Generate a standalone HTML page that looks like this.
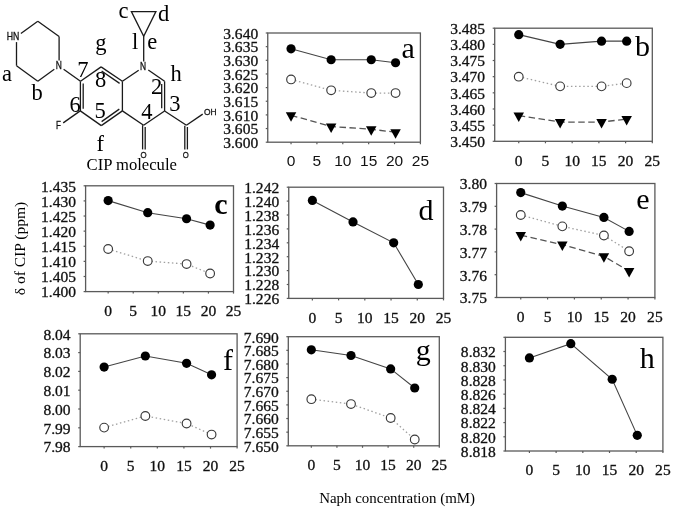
<!DOCTYPE html>
<html><head><meta charset="utf-8"><title>CIP chemical shift vs Naph concentration</title>
<style>
html,body{margin:0;padding:0;background:#fff;}
body{width:675px;height:509px;overflow:hidden;}
svg{display:block;will-change:transform;}
.tk{font-family:"Liberation Serif", serif;font-size:14.5px;fill:#111;stroke:#111;stroke-width:0.3px;}
.tks{font-family:"Liberation Sans", sans-serif;font-size:15.5px;fill:#111;}
.lt{font-family:"Liberation Serif", serif;font-size:30px;fill:#000;}
.at{font-family:"Liberation Sans", sans-serif;fill:#111;stroke:#111;stroke-width:0.3px;}
.ml{font-family:"Liberation Serif", serif;fill:#000;}
.ax{font-family:"Liberation Serif", serif;font-size:15px;fill:#000;}
</style></head>
<body>
<svg width="675" height="509" viewBox="0 0 675 509">
<rect width="675" height="509" fill="#fff"/>
<line x1="20.9" y1="33.5" x2="37.8" y2="21.2" stroke="#1a1a1a" stroke-width="1.3" fill="none" stroke-linecap="butt"/>
<line x1="37.8" y1="21.2" x2="59.1" y2="36.5" stroke="#1a1a1a" stroke-width="1.3" fill="none" stroke-linecap="butt"/>
<line x1="59.1" y1="36.5" x2="59.1" y2="60.6" stroke="#1a1a1a" stroke-width="1.3" fill="none" stroke-linecap="butt"/>
<line x1="54.3" y1="69.3" x2="37.8" y2="81.2" stroke="#1a1a1a" stroke-width="1.3" fill="none" stroke-linecap="butt"/>
<line x1="37.8" y1="81.2" x2="16.5" y2="65.7" stroke="#1a1a1a" stroke-width="1.3" fill="none" stroke-linecap="butt"/>
<line x1="16.5" y1="65.7" x2="16.5" y2="42.1" stroke="#1a1a1a" stroke-width="1.3" fill="none" stroke-linecap="butt"/>
<line x1="63.6" y1="69.3" x2="80.5" y2="81.3" stroke="#1a1a1a" stroke-width="1.3" fill="none" stroke-linecap="butt"/>
<line x1="80.5" y1="81.3" x2="101.1" y2="66.9" stroke="#1a1a1a" stroke-width="1.3" fill="none" stroke-linecap="butt"/>
<line x1="101.1" y1="66.9" x2="122.4" y2="81.3" stroke="#1a1a1a" stroke-width="1.3" fill="none" stroke-linecap="butt"/>
<line x1="101.6" y1="71.0" x2="119.6" y2="83.4" stroke="#1a1a1a" stroke-width="1.3" fill="none" stroke-linecap="butt"/>
<line x1="122.4" y1="81.3" x2="122.4" y2="110.9" stroke="#1a1a1a" stroke-width="1.3" fill="none" stroke-linecap="butt"/>
<line x1="122.4" y1="110.9" x2="101.3" y2="125.6" stroke="#1a1a1a" stroke-width="1.3" fill="none" stroke-linecap="butt"/>
<line x1="119.3" y1="109.1" x2="101.6" y2="121.6" stroke="#1a1a1a" stroke-width="1.3" fill="none" stroke-linecap="butt"/>
<line x1="101.3" y1="125.6" x2="80.3" y2="110.9" stroke="#1a1a1a" stroke-width="1.3" fill="none" stroke-linecap="butt"/>
<line x1="80.4" y1="111.2" x2="80.4" y2="81.3" stroke="#1a1a1a" stroke-width="1.3" fill="none" stroke-linecap="butt"/>
<line x1="83.2" y1="83.4" x2="83.2" y2="108.7" stroke="#1a1a1a" stroke-width="1.3" fill="none" stroke-linecap="butt"/>
<line x1="80.2" y1="110.9" x2="63.2" y2="122.9" stroke="#1a1a1a" stroke-width="1.3" fill="none" stroke-linecap="butt"/>
<line x1="122.4" y1="81.3" x2="138.7" y2="70.2" stroke="#1a1a1a" stroke-width="1.3" fill="none" stroke-linecap="butt"/>
<line x1="148.3" y1="70.0" x2="164.6" y2="81.3" stroke="#1a1a1a" stroke-width="1.3" fill="none" stroke-linecap="butt"/>
<line x1="164.6" y1="81.3" x2="164.6" y2="111.0" stroke="#1a1a1a" stroke-width="1.3" fill="none" stroke-linecap="butt"/>
<line x1="161.7" y1="83.9" x2="161.7" y2="108.3" stroke="#1a1a1a" stroke-width="1.3" fill="none" stroke-linecap="butt"/>
<line x1="164.6" y1="111.0" x2="143.6" y2="125.2" stroke="#1a1a1a" stroke-width="1.3" fill="none" stroke-linecap="butt"/>
<line x1="143.6" y1="125.2" x2="122.4" y2="110.9" stroke="#1a1a1a" stroke-width="1.3" fill="none" stroke-linecap="butt"/>
<line x1="142.6" y1="125.2" x2="142.6" y2="149.4" stroke="#1a1a1a" stroke-width="1.3" fill="none" stroke-linecap="butt"/>
<line x1="145.2" y1="127.0" x2="145.2" y2="149.4" stroke="#1a1a1a" stroke-width="1.3" fill="none" stroke-linecap="butt"/>
<line x1="164.6" y1="111.0" x2="186.4" y2="125.2" stroke="#1a1a1a" stroke-width="1.3" fill="none" stroke-linecap="butt"/>
<line x1="186.4" y1="125.2" x2="202.7" y2="114.1" stroke="#1a1a1a" stroke-width="1.3" fill="none" stroke-linecap="butt"/>
<line x1="184.8" y1="125.8" x2="184.8" y2="149.4" stroke="#1a1a1a" stroke-width="1.3" fill="none" stroke-linecap="butt"/>
<line x1="187.4" y1="127.0" x2="187.4" y2="149.4" stroke="#1a1a1a" stroke-width="1.3" fill="none" stroke-linecap="butt"/>
<line x1="143.7" y1="61.5" x2="143.7" y2="36.3" stroke="#1a1a1a" stroke-width="1.3" fill="none" stroke-linecap="butt"/>
<path d="M131.4,11.6 H155.9 L143.7,36.3 Z" stroke="#1a1a1a" stroke-width="1.3" fill="none" stroke-linecap="butt" stroke-linejoin="miter"/>
<text x="6.7" y="40.0" class="at" font-size="10.4" textLength="12.6" lengthAdjust="spacingAndGlyphs">HN</text>
<text x="55.7" y="69.4" class="at" font-size="10.1" textLength="6.1" lengthAdjust="spacingAndGlyphs">N</text>
<text x="140.1" y="70.3" class="at" font-size="10.0" textLength="6.1" lengthAdjust="spacingAndGlyphs">N</text>
<text x="56.0" y="129.4" class="at" font-size="10.3" textLength="4.9" lengthAdjust="spacingAndGlyphs">F</text>
<text x="204.0" y="114.6" class="at" font-size="9.9" textLength="12.6" lengthAdjust="spacingAndGlyphs">OH</text>
<text x="140.4" y="158.4" class="at" font-size="9.15" textLength="6.1" lengthAdjust="spacingAndGlyphs">O</text>
<text x="182.7" y="158.4" class="at" font-size="9.15" textLength="6.0" lengthAdjust="spacingAndGlyphs">O</text>
<text x="2.0" y="80.9" class="ml" font-size="22.5">a</text>
<text x="31.6" y="99.7" class="ml" font-size="22.5">b</text>
<text x="118.4" y="18.0" class="ml" font-size="22.5">c</text>
<text x="158.1" y="21.3" class="ml" font-size="22.5">d</text>
<text x="132.1" y="49.2" class="ml" font-size="22.5">l</text>
<text x="147.2" y="49.0" class="ml" font-size="22.5">e</text>
<text x="95.2" y="49.8" class="ml" font-size="22.5">g</text>
<text x="170.4" y="81.0" class="ml" font-size="22.5">h</text>
<text x="77.3" y="76.8" class="ml" font-size="22.5">7</text>
<text x="95.1" y="87.0" class="ml" font-size="22.5">8</text>
<text x="69.6" y="111.8" class="ml" font-size="22.5">6</text>
<text x="94.6" y="117.9" class="ml" font-size="22.5">5</text>
<text x="96.5" y="150.6" class="ml" font-size="22.5">f</text>
<text x="151.0" y="93.6" class="ml" font-size="22.5">2</text>
<text x="169.2" y="110.8" class="ml" font-size="22.5">3</text>
<text x="141.2" y="118.7" class="ml" font-size="22.5">4</text>
<text x="86.6" y="170.0" class="ml" font-size="16" textLength="90.3" lengthAdjust="spacingAndGlyphs">CIP molecule</text>
<rect x="267.75" y="33" width="152.65" height="109.2" fill="none" stroke="#5a5a5a" stroke-width="1.3"/>
<line x1="265.75" y1="142.2" x2="267.75" y2="142.2" stroke="#5a5a5a" stroke-width="1.2"/>
<text x="258.15" y="148" text-anchor="end" class="tk" textLength="34.91" lengthAdjust="spacingAndGlyphs">3.600</text>
<line x1="265.75" y1="128.55" x2="267.75" y2="128.55" stroke="#5a5a5a" stroke-width="1.2"/>
<text x="258.15" y="134.35" text-anchor="end" class="tk" textLength="34.91" lengthAdjust="spacingAndGlyphs">3.605</text>
<line x1="265.75" y1="114.9" x2="267.75" y2="114.9" stroke="#5a5a5a" stroke-width="1.2"/>
<text x="258.15" y="120.7" text-anchor="end" class="tk" textLength="34.91" lengthAdjust="spacingAndGlyphs">3.610</text>
<line x1="265.75" y1="101.25" x2="267.75" y2="101.25" stroke="#5a5a5a" stroke-width="1.2"/>
<text x="258.15" y="107.05" text-anchor="end" class="tk" textLength="34.91" lengthAdjust="spacingAndGlyphs">3.615</text>
<line x1="265.75" y1="87.6" x2="267.75" y2="87.6" stroke="#5a5a5a" stroke-width="1.2"/>
<text x="258.15" y="93.4" text-anchor="end" class="tk" textLength="34.91" lengthAdjust="spacingAndGlyphs">3.620</text>
<line x1="265.75" y1="73.95" x2="267.75" y2="73.95" stroke="#5a5a5a" stroke-width="1.2"/>
<text x="258.15" y="79.75" text-anchor="end" class="tk" textLength="34.91" lengthAdjust="spacingAndGlyphs">3.625</text>
<line x1="265.75" y1="60.3" x2="267.75" y2="60.3" stroke="#5a5a5a" stroke-width="1.2"/>
<text x="258.15" y="66.1" text-anchor="end" class="tk" textLength="34.91" lengthAdjust="spacingAndGlyphs">3.630</text>
<line x1="265.75" y1="46.65" x2="267.75" y2="46.65" stroke="#5a5a5a" stroke-width="1.2"/>
<text x="258.15" y="52.45" text-anchor="end" class="tk" textLength="34.91" lengthAdjust="spacingAndGlyphs">3.635</text>
<line x1="265.75" y1="33" x2="267.75" y2="33" stroke="#5a5a5a" stroke-width="1.2"/>
<text x="258.15" y="38.8" text-anchor="end" class="tk" textLength="34.91" lengthAdjust="spacingAndGlyphs">3.640</text>
<line x1="291.04" y1="142.2" x2="291.04" y2="144.2" stroke="#5a5a5a" stroke-width="1.2"/>
<text x="291.04" y="166.2" text-anchor="middle" class="tks">0</text>
<line x1="316.91" y1="142.2" x2="316.91" y2="144.2" stroke="#5a5a5a" stroke-width="1.2"/>
<text x="316.91" y="166.2" text-anchor="middle" class="tks">5</text>
<line x1="342.78" y1="142.2" x2="342.78" y2="144.2" stroke="#5a5a5a" stroke-width="1.2"/>
<text x="342.78" y="166.2" text-anchor="middle" class="tks">10</text>
<line x1="368.65" y1="142.2" x2="368.65" y2="144.2" stroke="#5a5a5a" stroke-width="1.2"/>
<text x="368.65" y="166.2" text-anchor="middle" class="tks">15</text>
<line x1="394.53" y1="142.2" x2="394.53" y2="144.2" stroke="#5a5a5a" stroke-width="1.2"/>
<text x="394.53" y="166.2" text-anchor="middle" class="tks">20</text>
<line x1="420.4" y1="142.2" x2="420.4" y2="144.2" stroke="#5a5a5a" stroke-width="1.2"/>
<text x="420.4" y="166.2" text-anchor="middle" class="tks">25</text>
<polyline points="291.04,115.31 331.14,126.5 371.24,129.23 395.56,132.24" fill="none" stroke="#555" stroke-width="1.3" stroke-dasharray="6.5 3.5"/>
<polyline points="291.04,79.41 331.14,90.33 371.24,93.06 395.56,93.06" fill="none" stroke="#a0a0a0" stroke-width="1.3" stroke-dasharray="1.5 2.6"/>
<polyline points="291.04,48.83 331.14,59.75 371.24,59.75 395.56,62.76" fill="none" stroke="#444" stroke-width="1.1"/>
<path d="M285.79,112.21H296.29L291.04,121.71Z" fill="#000"/>
<path d="M325.89,123.4H336.39L331.14,132.9Z" fill="#000"/>
<path d="M365.99,126.13H376.49L371.24,135.63Z" fill="#000"/>
<path d="M390.31,129.14H400.81L395.56,138.64Z" fill="#000"/>
<circle cx="291.04" cy="79.41" r="4.35" fill="#fff" stroke="#3a3a3a" stroke-width="1.15"/>
<circle cx="331.14" cy="90.33" r="4.35" fill="#fff" stroke="#3a3a3a" stroke-width="1.15"/>
<circle cx="371.24" cy="93.06" r="4.35" fill="#fff" stroke="#3a3a3a" stroke-width="1.15"/>
<circle cx="395.56" cy="93.06" r="4.35" fill="#fff" stroke="#3a3a3a" stroke-width="1.15"/>
<circle cx="291.04" cy="48.83" r="4.6" fill="#000"/>
<circle cx="331.14" cy="59.75" r="4.6" fill="#000"/>
<circle cx="371.24" cy="59.75" r="4.6" fill="#000"/>
<circle cx="395.56" cy="62.76" r="4.6" fill="#000"/>
<text x="401.6" y="58.3" class="lt">a</text>
<rect x="494.7" y="28.2" width="157.6" height="113.1" fill="none" stroke="#5a5a5a" stroke-width="1.3"/>
<line x1="492.7" y1="141.3" x2="494.7" y2="141.3" stroke="#5a5a5a" stroke-width="1.2"/>
<text x="485.1" y="147.1" text-anchor="end" class="tk" textLength="34.91" lengthAdjust="spacingAndGlyphs">3.450</text>
<line x1="492.7" y1="125.14" x2="494.7" y2="125.14" stroke="#5a5a5a" stroke-width="1.2"/>
<text x="485.1" y="130.94" text-anchor="end" class="tk" textLength="34.91" lengthAdjust="spacingAndGlyphs">3.455</text>
<line x1="492.7" y1="108.99" x2="494.7" y2="108.99" stroke="#5a5a5a" stroke-width="1.2"/>
<text x="485.1" y="114.79" text-anchor="end" class="tk" textLength="34.91" lengthAdjust="spacingAndGlyphs">3.460</text>
<line x1="492.7" y1="92.83" x2="494.7" y2="92.83" stroke="#5a5a5a" stroke-width="1.2"/>
<text x="485.1" y="98.63" text-anchor="end" class="tk" textLength="34.91" lengthAdjust="spacingAndGlyphs">3.465</text>
<line x1="492.7" y1="76.67" x2="494.7" y2="76.67" stroke="#5a5a5a" stroke-width="1.2"/>
<text x="485.1" y="82.47" text-anchor="end" class="tk" textLength="34.91" lengthAdjust="spacingAndGlyphs">3.470</text>
<line x1="492.7" y1="60.51" x2="494.7" y2="60.51" stroke="#5a5a5a" stroke-width="1.2"/>
<text x="485.1" y="66.31" text-anchor="end" class="tk" textLength="34.91" lengthAdjust="spacingAndGlyphs">3.475</text>
<line x1="492.7" y1="44.36" x2="494.7" y2="44.36" stroke="#5a5a5a" stroke-width="1.2"/>
<text x="485.1" y="50.16" text-anchor="end" class="tk" textLength="34.91" lengthAdjust="spacingAndGlyphs">3.480</text>
<line x1="492.7" y1="28.2" x2="494.7" y2="28.2" stroke="#5a5a5a" stroke-width="1.2"/>
<text x="485.1" y="34" text-anchor="end" class="tk" textLength="34.91" lengthAdjust="spacingAndGlyphs">3.485</text>
<line x1="518.74" y1="141.3" x2="518.74" y2="143.3" stroke="#5a5a5a" stroke-width="1.2"/>
<text x="518.74" y="165.6" text-anchor="middle" class="tk" textLength="7.76" lengthAdjust="spacingAndGlyphs">0</text>
<line x1="545.45" y1="141.3" x2="545.45" y2="143.3" stroke="#5a5a5a" stroke-width="1.2"/>
<text x="545.45" y="165.6" text-anchor="middle" class="tk" textLength="7.76" lengthAdjust="spacingAndGlyphs">5</text>
<line x1="572.16" y1="141.3" x2="572.16" y2="143.3" stroke="#5a5a5a" stroke-width="1.2"/>
<text x="572.16" y="165.6" text-anchor="middle" class="tk" textLength="15.52" lengthAdjust="spacingAndGlyphs">10</text>
<line x1="598.88" y1="141.3" x2="598.88" y2="143.3" stroke="#5a5a5a" stroke-width="1.2"/>
<text x="598.88" y="165.6" text-anchor="middle" class="tk" textLength="15.52" lengthAdjust="spacingAndGlyphs">15</text>
<line x1="625.59" y1="141.3" x2="625.59" y2="143.3" stroke="#5a5a5a" stroke-width="1.2"/>
<text x="625.59" y="165.6" text-anchor="middle" class="tk" textLength="15.52" lengthAdjust="spacingAndGlyphs">20</text>
<line x1="652.3" y1="141.3" x2="652.3" y2="143.3" stroke="#5a5a5a" stroke-width="1.2"/>
<text x="652.3" y="165.6" text-anchor="middle" class="tk" textLength="15.52" lengthAdjust="spacingAndGlyphs">25</text>
<polyline points="518.74,115.56 560.14,122.03 601.55,122.03 626.66,119.12" fill="none" stroke="#555" stroke-width="1.3" stroke-dasharray="6.5 3.5"/>
<polyline points="518.74,76.67 560.14,86.37 601.55,86.37 626.66,83.13" fill="none" stroke="#a0a0a0" stroke-width="1.3" stroke-dasharray="1.5 2.6"/>
<polyline points="518.74,34.66 560.14,44.36 601.55,41.13 626.66,41.13" fill="none" stroke="#444" stroke-width="1.1"/>
<path d="M513.49,112.46H523.99L518.74,121.96Z" fill="#000"/>
<path d="M554.89,118.93H565.39L560.14,128.43Z" fill="#000"/>
<path d="M596.3,118.93H606.8L601.55,128.43Z" fill="#000"/>
<path d="M621.41,116.02H631.91L626.66,125.52Z" fill="#000"/>
<circle cx="518.74" cy="76.67" r="4.35" fill="#fff" stroke="#3a3a3a" stroke-width="1.15"/>
<circle cx="560.14" cy="86.37" r="4.35" fill="#fff" stroke="#3a3a3a" stroke-width="1.15"/>
<circle cx="601.55" cy="86.37" r="4.35" fill="#fff" stroke="#3a3a3a" stroke-width="1.15"/>
<circle cx="626.66" cy="83.13" r="4.35" fill="#fff" stroke="#3a3a3a" stroke-width="1.15"/>
<circle cx="518.74" cy="34.66" r="4.6" fill="#000"/>
<circle cx="560.14" cy="44.36" r="4.6" fill="#000"/>
<circle cx="601.55" cy="41.13" r="4.6" fill="#000"/>
<circle cx="626.66" cy="41.13" r="4.6" fill="#000"/>
<text x="634.9" y="56.4" class="lt">b</text>
<rect x="85.6" y="185.8" width="147.9" height="105.8" fill="none" stroke="#5a5a5a" stroke-width="1.3"/>
<line x1="83.6" y1="291.6" x2="85.6" y2="291.6" stroke="#5a5a5a" stroke-width="1.2"/>
<text x="76" y="297.4" text-anchor="end" class="tk" textLength="34.91" lengthAdjust="spacingAndGlyphs">1.400</text>
<line x1="83.6" y1="276.49" x2="85.6" y2="276.49" stroke="#5a5a5a" stroke-width="1.2"/>
<text x="76" y="282.29" text-anchor="end" class="tk" textLength="34.91" lengthAdjust="spacingAndGlyphs">1.405</text>
<line x1="83.6" y1="261.37" x2="85.6" y2="261.37" stroke="#5a5a5a" stroke-width="1.2"/>
<text x="76" y="267.17" text-anchor="end" class="tk" textLength="34.91" lengthAdjust="spacingAndGlyphs">1.410</text>
<line x1="83.6" y1="246.26" x2="85.6" y2="246.26" stroke="#5a5a5a" stroke-width="1.2"/>
<text x="76" y="252.06" text-anchor="end" class="tk" textLength="34.91" lengthAdjust="spacingAndGlyphs">1.415</text>
<line x1="83.6" y1="231.14" x2="85.6" y2="231.14" stroke="#5a5a5a" stroke-width="1.2"/>
<text x="76" y="236.94" text-anchor="end" class="tk" textLength="34.91" lengthAdjust="spacingAndGlyphs">1.420</text>
<line x1="83.6" y1="216.03" x2="85.6" y2="216.03" stroke="#5a5a5a" stroke-width="1.2"/>
<text x="76" y="221.83" text-anchor="end" class="tk" textLength="34.91" lengthAdjust="spacingAndGlyphs">1.425</text>
<line x1="83.6" y1="200.91" x2="85.6" y2="200.91" stroke="#5a5a5a" stroke-width="1.2"/>
<text x="76" y="206.71" text-anchor="end" class="tk" textLength="34.91" lengthAdjust="spacingAndGlyphs">1.430</text>
<line x1="83.6" y1="185.8" x2="85.6" y2="185.8" stroke="#5a5a5a" stroke-width="1.2"/>
<text x="76" y="191.6" text-anchor="end" class="tk" textLength="34.91" lengthAdjust="spacingAndGlyphs">1.435</text>
<line x1="108.16" y1="291.6" x2="108.16" y2="293.6" stroke="#5a5a5a" stroke-width="1.2"/>
<text x="108.16" y="315.9" text-anchor="middle" class="tk" textLength="7.76" lengthAdjust="spacingAndGlyphs">0</text>
<line x1="133.23" y1="291.6" x2="133.23" y2="293.6" stroke="#5a5a5a" stroke-width="1.2"/>
<text x="133.23" y="315.9" text-anchor="middle" class="tk" textLength="7.76" lengthAdjust="spacingAndGlyphs">5</text>
<line x1="158.3" y1="291.6" x2="158.3" y2="293.6" stroke="#5a5a5a" stroke-width="1.2"/>
<text x="158.3" y="315.9" text-anchor="middle" class="tk" textLength="15.52" lengthAdjust="spacingAndGlyphs">10</text>
<line x1="183.36" y1="291.6" x2="183.36" y2="293.6" stroke="#5a5a5a" stroke-width="1.2"/>
<text x="183.36" y="315.9" text-anchor="middle" class="tk" textLength="15.52" lengthAdjust="spacingAndGlyphs">15</text>
<line x1="208.43" y1="291.6" x2="208.43" y2="293.6" stroke="#5a5a5a" stroke-width="1.2"/>
<text x="208.43" y="315.9" text-anchor="middle" class="tk" textLength="15.52" lengthAdjust="spacingAndGlyphs">20</text>
<line x1="233.5" y1="291.6" x2="233.5" y2="293.6" stroke="#5a5a5a" stroke-width="1.2"/>
<text x="233.5" y="315.9" text-anchor="middle" class="tk" textLength="15.52" lengthAdjust="spacingAndGlyphs">25</text>
<polyline points="108.16,248.98 147.72,261.07 186.57,264.09 210.13,273.46" fill="none" stroke="#a0a0a0" stroke-width="1.3" stroke-dasharray="1.5 2.6"/>
<polyline points="108.16,200.61 147.72,212.7 186.57,218.75 210.13,225.1" fill="none" stroke="#444" stroke-width="1.1"/>
<circle cx="108.16" cy="248.98" r="4.35" fill="#fff" stroke="#3a3a3a" stroke-width="1.15"/>
<circle cx="147.72" cy="261.07" r="4.35" fill="#fff" stroke="#3a3a3a" stroke-width="1.15"/>
<circle cx="186.57" cy="264.09" r="4.35" fill="#fff" stroke="#3a3a3a" stroke-width="1.15"/>
<circle cx="210.13" cy="273.46" r="4.35" fill="#fff" stroke="#3a3a3a" stroke-width="1.15"/>
<circle cx="108.16" cy="200.61" r="4.6" fill="#000"/>
<circle cx="147.72" cy="212.7" r="4.6" fill="#000"/>
<circle cx="186.57" cy="218.75" r="4.6" fill="#000"/>
<circle cx="210.13" cy="225.1" r="4.6" fill="#000"/>
<text x="214.3" y="214.3" class="lt" font-weight="bold">c</text>
<rect x="288.75" y="187.2" width="154.75" height="111.2" fill="none" stroke="#5a5a5a" stroke-width="1.3"/>
<line x1="286.75" y1="298.4" x2="288.75" y2="298.4" stroke="#5a5a5a" stroke-width="1.2"/>
<text x="279.15" y="304.2" text-anchor="end" class="tk" textLength="34.91" lengthAdjust="spacingAndGlyphs">1.226</text>
<line x1="286.75" y1="284.5" x2="288.75" y2="284.5" stroke="#5a5a5a" stroke-width="1.2"/>
<text x="279.15" y="290.3" text-anchor="end" class="tk" textLength="34.91" lengthAdjust="spacingAndGlyphs">1.228</text>
<line x1="286.75" y1="270.6" x2="288.75" y2="270.6" stroke="#5a5a5a" stroke-width="1.2"/>
<text x="279.15" y="276.4" text-anchor="end" class="tk" textLength="34.91" lengthAdjust="spacingAndGlyphs">1.230</text>
<line x1="286.75" y1="256.7" x2="288.75" y2="256.7" stroke="#5a5a5a" stroke-width="1.2"/>
<text x="279.15" y="262.5" text-anchor="end" class="tk" textLength="34.91" lengthAdjust="spacingAndGlyphs">1.232</text>
<line x1="286.75" y1="242.8" x2="288.75" y2="242.8" stroke="#5a5a5a" stroke-width="1.2"/>
<text x="279.15" y="248.6" text-anchor="end" class="tk" textLength="34.91" lengthAdjust="spacingAndGlyphs">1.234</text>
<line x1="286.75" y1="228.9" x2="288.75" y2="228.9" stroke="#5a5a5a" stroke-width="1.2"/>
<text x="279.15" y="234.7" text-anchor="end" class="tk" textLength="34.91" lengthAdjust="spacingAndGlyphs">1.236</text>
<line x1="286.75" y1="215" x2="288.75" y2="215" stroke="#5a5a5a" stroke-width="1.2"/>
<text x="279.15" y="220.8" text-anchor="end" class="tk" textLength="34.91" lengthAdjust="spacingAndGlyphs">1.238</text>
<line x1="286.75" y1="201.1" x2="288.75" y2="201.1" stroke="#5a5a5a" stroke-width="1.2"/>
<text x="279.15" y="206.9" text-anchor="end" class="tk" textLength="34.91" lengthAdjust="spacingAndGlyphs">1.240</text>
<line x1="286.75" y1="187.2" x2="288.75" y2="187.2" stroke="#5a5a5a" stroke-width="1.2"/>
<text x="279.15" y="193" text-anchor="end" class="tk" textLength="34.91" lengthAdjust="spacingAndGlyphs">1.242</text>
<line x1="312.36" y1="298.4" x2="312.36" y2="300.4" stroke="#5a5a5a" stroke-width="1.2"/>
<text x="312.36" y="322.7" text-anchor="middle" class="tk" textLength="7.76" lengthAdjust="spacingAndGlyphs">0</text>
<line x1="338.58" y1="298.4" x2="338.58" y2="300.4" stroke="#5a5a5a" stroke-width="1.2"/>
<text x="338.58" y="322.7" text-anchor="middle" class="tk" textLength="7.76" lengthAdjust="spacingAndGlyphs">5</text>
<line x1="364.81" y1="298.4" x2="364.81" y2="300.4" stroke="#5a5a5a" stroke-width="1.2"/>
<text x="364.81" y="322.7" text-anchor="middle" class="tk" textLength="15.52" lengthAdjust="spacingAndGlyphs">10</text>
<line x1="391.04" y1="298.4" x2="391.04" y2="300.4" stroke="#5a5a5a" stroke-width="1.2"/>
<text x="391.04" y="322.7" text-anchor="middle" class="tk" textLength="15.52" lengthAdjust="spacingAndGlyphs">15</text>
<line x1="417.27" y1="298.4" x2="417.27" y2="300.4" stroke="#5a5a5a" stroke-width="1.2"/>
<text x="417.27" y="322.7" text-anchor="middle" class="tk" textLength="15.52" lengthAdjust="spacingAndGlyphs">20</text>
<line x1="443.5" y1="298.4" x2="443.5" y2="300.4" stroke="#5a5a5a" stroke-width="1.2"/>
<text x="443.5" y="322.7" text-anchor="middle" class="tk" textLength="15.52" lengthAdjust="spacingAndGlyphs">25</text>
<polyline points="312.36,200.41 353.01,221.95 393.67,242.8 418.32,284.5" fill="none" stroke="#444" stroke-width="1.1"/>
<circle cx="312.36" cy="200.41" r="4.6" fill="#000"/>
<circle cx="353.01" cy="221.95" r="4.6" fill="#000"/>
<circle cx="393.67" cy="242.8" r="4.6" fill="#000"/>
<circle cx="418.32" cy="284.5" r="4.6" fill="#000"/>
<text x="418.4" y="219.7" class="lt">d</text>
<rect x="496.6" y="183.5" width="158.3" height="114" fill="none" stroke="#5a5a5a" stroke-width="1.3"/>
<line x1="494.6" y1="297.5" x2="496.6" y2="297.5" stroke="#5a5a5a" stroke-width="1.2"/>
<text x="487" y="303.3" text-anchor="end" class="tk" textLength="27.15" lengthAdjust="spacingAndGlyphs">3.75</text>
<line x1="494.6" y1="274.7" x2="496.6" y2="274.7" stroke="#5a5a5a" stroke-width="1.2"/>
<text x="487" y="280.5" text-anchor="end" class="tk" textLength="27.15" lengthAdjust="spacingAndGlyphs">3.76</text>
<line x1="494.6" y1="251.9" x2="496.6" y2="251.9" stroke="#5a5a5a" stroke-width="1.2"/>
<text x="487" y="257.7" text-anchor="end" class="tk" textLength="27.15" lengthAdjust="spacingAndGlyphs">3.77</text>
<line x1="494.6" y1="229.1" x2="496.6" y2="229.1" stroke="#5a5a5a" stroke-width="1.2"/>
<text x="487" y="234.9" text-anchor="end" class="tk" textLength="27.15" lengthAdjust="spacingAndGlyphs">3.78</text>
<line x1="494.6" y1="206.3" x2="496.6" y2="206.3" stroke="#5a5a5a" stroke-width="1.2"/>
<text x="487" y="212.1" text-anchor="end" class="tk" textLength="27.15" lengthAdjust="spacingAndGlyphs">3.79</text>
<line x1="494.6" y1="183.5" x2="496.6" y2="183.5" stroke="#5a5a5a" stroke-width="1.2"/>
<text x="487" y="189.3" text-anchor="end" class="tk" textLength="27.15" lengthAdjust="spacingAndGlyphs">3.80</text>
<line x1="520.75" y1="297.5" x2="520.75" y2="299.5" stroke="#5a5a5a" stroke-width="1.2"/>
<text x="520.75" y="321.8" text-anchor="middle" class="tk" textLength="7.76" lengthAdjust="spacingAndGlyphs">0</text>
<line x1="547.58" y1="297.5" x2="547.58" y2="299.5" stroke="#5a5a5a" stroke-width="1.2"/>
<text x="547.58" y="321.8" text-anchor="middle" class="tk" textLength="7.76" lengthAdjust="spacingAndGlyphs">5</text>
<line x1="574.41" y1="297.5" x2="574.41" y2="299.5" stroke="#5a5a5a" stroke-width="1.2"/>
<text x="574.41" y="321.8" text-anchor="middle" class="tk" textLength="15.52" lengthAdjust="spacingAndGlyphs">10</text>
<line x1="601.24" y1="297.5" x2="601.24" y2="299.5" stroke="#5a5a5a" stroke-width="1.2"/>
<text x="601.24" y="321.8" text-anchor="middle" class="tk" textLength="15.52" lengthAdjust="spacingAndGlyphs">15</text>
<line x1="628.07" y1="297.5" x2="628.07" y2="299.5" stroke="#5a5a5a" stroke-width="1.2"/>
<text x="628.07" y="321.8" text-anchor="middle" class="tk" textLength="15.52" lengthAdjust="spacingAndGlyphs">20</text>
<line x1="654.9" y1="297.5" x2="654.9" y2="299.5" stroke="#5a5a5a" stroke-width="1.2"/>
<text x="654.9" y="321.8" text-anchor="middle" class="tk" textLength="15.52" lengthAdjust="spacingAndGlyphs">25</text>
<polyline points="520.75,235.12 562.33,244.7 603.92,256.33 629.14,271.15" fill="none" stroke="#555" stroke-width="1.3" stroke-dasharray="6.5 3.5"/>
<polyline points="520.75,214.96 562.33,226.36 603.92,235.48 629.14,251.22" fill="none" stroke="#a0a0a0" stroke-width="1.3" stroke-dasharray="1.5 2.6"/>
<polyline points="520.75,192.62 562.33,206.07 603.92,217.47 629.14,231.38" fill="none" stroke="#444" stroke-width="1.1"/>
<path d="M515.5,232.02H526L520.75,241.52Z" fill="#000"/>
<path d="M557.08,241.6H567.58L562.33,251.1Z" fill="#000"/>
<path d="M598.67,253.23H609.17L603.92,262.73Z" fill="#000"/>
<path d="M623.89,268.05H634.39L629.14,277.55Z" fill="#000"/>
<circle cx="520.75" cy="214.96" r="4.35" fill="#fff" stroke="#3a3a3a" stroke-width="1.15"/>
<circle cx="562.33" cy="226.36" r="4.35" fill="#fff" stroke="#3a3a3a" stroke-width="1.15"/>
<circle cx="603.92" cy="235.48" r="4.35" fill="#fff" stroke="#3a3a3a" stroke-width="1.15"/>
<circle cx="629.14" cy="251.22" r="4.35" fill="#fff" stroke="#3a3a3a" stroke-width="1.15"/>
<circle cx="520.75" cy="192.62" r="4.6" fill="#000"/>
<circle cx="562.33" cy="206.07" r="4.6" fill="#000"/>
<circle cx="603.92" cy="217.47" r="4.6" fill="#000"/>
<circle cx="629.14" cy="231.38" r="4.6" fill="#000"/>
<text x="636.2" y="208.7" class="lt">e</text>
<rect x="80.2" y="333.8" width="156.9" height="112.8" fill="none" stroke="#5a5a5a" stroke-width="1.3"/>
<line x1="78.2" y1="446.6" x2="80.2" y2="446.6" stroke="#5a5a5a" stroke-width="1.2"/>
<text x="70.6" y="452.4" text-anchor="end" class="tk" textLength="27.15" lengthAdjust="spacingAndGlyphs">7.98</text>
<line x1="78.2" y1="427.8" x2="80.2" y2="427.8" stroke="#5a5a5a" stroke-width="1.2"/>
<text x="70.6" y="433.6" text-anchor="end" class="tk" textLength="27.15" lengthAdjust="spacingAndGlyphs">7.99</text>
<line x1="78.2" y1="409" x2="80.2" y2="409" stroke="#5a5a5a" stroke-width="1.2"/>
<text x="70.6" y="414.8" text-anchor="end" class="tk" textLength="27.15" lengthAdjust="spacingAndGlyphs">8.00</text>
<line x1="78.2" y1="390.2" x2="80.2" y2="390.2" stroke="#5a5a5a" stroke-width="1.2"/>
<text x="70.6" y="396" text-anchor="end" class="tk" textLength="27.15" lengthAdjust="spacingAndGlyphs">8.01</text>
<line x1="78.2" y1="371.4" x2="80.2" y2="371.4" stroke="#5a5a5a" stroke-width="1.2"/>
<text x="70.6" y="377.2" text-anchor="end" class="tk" textLength="27.15" lengthAdjust="spacingAndGlyphs">8.02</text>
<line x1="78.2" y1="352.6" x2="80.2" y2="352.6" stroke="#5a5a5a" stroke-width="1.2"/>
<text x="70.6" y="358.4" text-anchor="end" class="tk" textLength="27.15" lengthAdjust="spacingAndGlyphs">8.03</text>
<line x1="78.2" y1="333.8" x2="80.2" y2="333.8" stroke="#5a5a5a" stroke-width="1.2"/>
<text x="70.6" y="339.6" text-anchor="end" class="tk" textLength="27.15" lengthAdjust="spacingAndGlyphs">8.04</text>
<line x1="104.13" y1="446.6" x2="104.13" y2="448.6" stroke="#5a5a5a" stroke-width="1.2"/>
<text x="104.13" y="470.9" text-anchor="middle" class="tk" textLength="7.76" lengthAdjust="spacingAndGlyphs">0</text>
<line x1="130.73" y1="446.6" x2="130.73" y2="448.6" stroke="#5a5a5a" stroke-width="1.2"/>
<text x="130.73" y="470.9" text-anchor="middle" class="tk" textLength="7.76" lengthAdjust="spacingAndGlyphs">5</text>
<line x1="157.32" y1="446.6" x2="157.32" y2="448.6" stroke="#5a5a5a" stroke-width="1.2"/>
<text x="157.32" y="470.9" text-anchor="middle" class="tk" textLength="15.52" lengthAdjust="spacingAndGlyphs">10</text>
<line x1="183.91" y1="446.6" x2="183.91" y2="448.6" stroke="#5a5a5a" stroke-width="1.2"/>
<text x="183.91" y="470.9" text-anchor="middle" class="tk" textLength="15.52" lengthAdjust="spacingAndGlyphs">15</text>
<line x1="210.51" y1="446.6" x2="210.51" y2="448.6" stroke="#5a5a5a" stroke-width="1.2"/>
<text x="210.51" y="470.9" text-anchor="middle" class="tk" textLength="15.52" lengthAdjust="spacingAndGlyphs">20</text>
<line x1="237.1" y1="446.6" x2="237.1" y2="448.6" stroke="#5a5a5a" stroke-width="1.2"/>
<text x="237.1" y="470.9" text-anchor="middle" class="tk" textLength="15.52" lengthAdjust="spacingAndGlyphs">25</text>
<polyline points="104.13,427.61 145.35,415.96 186.57,423.48 211.57,434.57" fill="none" stroke="#a0a0a0" stroke-width="1.3" stroke-dasharray="1.5 2.6"/>
<polyline points="104.13,367.08 145.35,355.98 186.57,363.32 211.57,374.78" fill="none" stroke="#444" stroke-width="1.1"/>
<circle cx="104.13" cy="427.61" r="4.35" fill="#fff" stroke="#3a3a3a" stroke-width="1.15"/>
<circle cx="145.35" cy="415.96" r="4.35" fill="#fff" stroke="#3a3a3a" stroke-width="1.15"/>
<circle cx="186.57" cy="423.48" r="4.35" fill="#fff" stroke="#3a3a3a" stroke-width="1.15"/>
<circle cx="211.57" cy="434.57" r="4.35" fill="#fff" stroke="#3a3a3a" stroke-width="1.15"/>
<circle cx="104.13" cy="367.08" r="4.6" fill="#000"/>
<circle cx="145.35" cy="355.98" r="4.6" fill="#000"/>
<circle cx="186.57" cy="363.32" r="4.6" fill="#000"/>
<circle cx="211.57" cy="374.78" r="4.6" fill="#000"/>
<text x="223" y="369.8" class="lt">f</text>
<rect x="288.3" y="336.7" width="151" height="109.1" fill="none" stroke="#5a5a5a" stroke-width="1.3"/>
<line x1="286.3" y1="445.8" x2="288.3" y2="445.8" stroke="#5a5a5a" stroke-width="1.2"/>
<text x="278.7" y="451.6" text-anchor="end" class="tk" textLength="34.91" lengthAdjust="spacingAndGlyphs">7.650</text>
<line x1="286.3" y1="432.16" x2="288.3" y2="432.16" stroke="#5a5a5a" stroke-width="1.2"/>
<text x="278.7" y="437.96" text-anchor="end" class="tk" textLength="34.91" lengthAdjust="spacingAndGlyphs">7.655</text>
<line x1="286.3" y1="418.53" x2="288.3" y2="418.53" stroke="#5a5a5a" stroke-width="1.2"/>
<text x="278.7" y="424.33" text-anchor="end" class="tk" textLength="34.91" lengthAdjust="spacingAndGlyphs">7.660</text>
<line x1="286.3" y1="404.89" x2="288.3" y2="404.89" stroke="#5a5a5a" stroke-width="1.2"/>
<text x="278.7" y="410.69" text-anchor="end" class="tk" textLength="34.91" lengthAdjust="spacingAndGlyphs">7.665</text>
<line x1="286.3" y1="391.25" x2="288.3" y2="391.25" stroke="#5a5a5a" stroke-width="1.2"/>
<text x="278.7" y="397.05" text-anchor="end" class="tk" textLength="34.91" lengthAdjust="spacingAndGlyphs">7.670</text>
<line x1="286.3" y1="377.61" x2="288.3" y2="377.61" stroke="#5a5a5a" stroke-width="1.2"/>
<text x="278.7" y="383.41" text-anchor="end" class="tk" textLength="34.91" lengthAdjust="spacingAndGlyphs">7.675</text>
<line x1="286.3" y1="363.97" x2="288.3" y2="363.97" stroke="#5a5a5a" stroke-width="1.2"/>
<text x="278.7" y="369.77" text-anchor="end" class="tk" textLength="34.91" lengthAdjust="spacingAndGlyphs">7.680</text>
<line x1="286.3" y1="350.34" x2="288.3" y2="350.34" stroke="#5a5a5a" stroke-width="1.2"/>
<text x="278.7" y="356.14" text-anchor="end" class="tk" textLength="34.91" lengthAdjust="spacingAndGlyphs">7.685</text>
<line x1="286.3" y1="336.7" x2="288.3" y2="336.7" stroke="#5a5a5a" stroke-width="1.2"/>
<text x="278.7" y="342.5" text-anchor="end" class="tk" textLength="34.91" lengthAdjust="spacingAndGlyphs">7.690</text>
<line x1="311.33" y1="445.8" x2="311.33" y2="447.8" stroke="#5a5a5a" stroke-width="1.2"/>
<text x="311.33" y="470.1" text-anchor="middle" class="tk" textLength="7.76" lengthAdjust="spacingAndGlyphs">0</text>
<line x1="336.93" y1="445.8" x2="336.93" y2="447.8" stroke="#5a5a5a" stroke-width="1.2"/>
<text x="336.93" y="470.1" text-anchor="middle" class="tk" textLength="7.76" lengthAdjust="spacingAndGlyphs">5</text>
<line x1="362.52" y1="445.8" x2="362.52" y2="447.8" stroke="#5a5a5a" stroke-width="1.2"/>
<text x="362.52" y="470.1" text-anchor="middle" class="tk" textLength="15.52" lengthAdjust="spacingAndGlyphs">10</text>
<line x1="388.11" y1="445.8" x2="388.11" y2="447.8" stroke="#5a5a5a" stroke-width="1.2"/>
<text x="388.11" y="470.1" text-anchor="middle" class="tk" textLength="15.52" lengthAdjust="spacingAndGlyphs">15</text>
<line x1="413.71" y1="445.8" x2="413.71" y2="447.8" stroke="#5a5a5a" stroke-width="1.2"/>
<text x="413.71" y="470.1" text-anchor="middle" class="tk" textLength="15.52" lengthAdjust="spacingAndGlyphs">20</text>
<line x1="439.3" y1="445.8" x2="439.3" y2="447.8" stroke="#5a5a5a" stroke-width="1.2"/>
<text x="439.3" y="470.1" text-anchor="middle" class="tk" textLength="15.52" lengthAdjust="spacingAndGlyphs">25</text>
<polyline points="311.33,399.16 351,404.07 390.67,417.98 414.73,439.53" fill="none" stroke="#a0a0a0" stroke-width="1.3" stroke-dasharray="1.5 2.6"/>
<polyline points="311.33,349.79 351,355.52 390.67,368.88 414.73,387.98" fill="none" stroke="#444" stroke-width="1.1"/>
<circle cx="311.33" cy="399.16" r="4.35" fill="#fff" stroke="#3a3a3a" stroke-width="1.15"/>
<circle cx="351" cy="404.07" r="4.35" fill="#fff" stroke="#3a3a3a" stroke-width="1.15"/>
<circle cx="390.67" cy="417.98" r="4.35" fill="#fff" stroke="#3a3a3a" stroke-width="1.15"/>
<circle cx="414.73" cy="439.53" r="4.35" fill="#fff" stroke="#3a3a3a" stroke-width="1.15"/>
<circle cx="311.33" cy="349.79" r="4.6" fill="#000"/>
<circle cx="351" cy="355.52" r="4.6" fill="#000"/>
<circle cx="390.67" cy="368.88" r="4.6" fill="#000"/>
<circle cx="414.73" cy="387.98" r="4.6" fill="#000"/>
<text x="415.8" y="359.9" class="lt">g</text>
<rect x="505.4" y="337.3" width="157.5" height="113.7" fill="none" stroke="#5a5a5a" stroke-width="1.3"/>
<line x1="503.4" y1="451" x2="505.4" y2="451" stroke="#5a5a5a" stroke-width="1.2"/>
<text x="495.8" y="456.8" text-anchor="end" class="tk" textLength="34.91" lengthAdjust="spacingAndGlyphs">8.818</text>
<line x1="503.4" y1="436.79" x2="505.4" y2="436.79" stroke="#5a5a5a" stroke-width="1.2"/>
<text x="495.8" y="442.59" text-anchor="end" class="tk" textLength="34.91" lengthAdjust="spacingAndGlyphs">8.820</text>
<line x1="503.4" y1="422.58" x2="505.4" y2="422.58" stroke="#5a5a5a" stroke-width="1.2"/>
<text x="495.8" y="428.38" text-anchor="end" class="tk" textLength="34.91" lengthAdjust="spacingAndGlyphs">8.822</text>
<line x1="503.4" y1="408.36" x2="505.4" y2="408.36" stroke="#5a5a5a" stroke-width="1.2"/>
<text x="495.8" y="414.16" text-anchor="end" class="tk" textLength="34.91" lengthAdjust="spacingAndGlyphs">8.824</text>
<line x1="503.4" y1="394.15" x2="505.4" y2="394.15" stroke="#5a5a5a" stroke-width="1.2"/>
<text x="495.8" y="399.95" text-anchor="end" class="tk" textLength="34.91" lengthAdjust="spacingAndGlyphs">8.826</text>
<line x1="503.4" y1="379.94" x2="505.4" y2="379.94" stroke="#5a5a5a" stroke-width="1.2"/>
<text x="495.8" y="385.74" text-anchor="end" class="tk" textLength="34.91" lengthAdjust="spacingAndGlyphs">8.828</text>
<line x1="503.4" y1="365.72" x2="505.4" y2="365.72" stroke="#5a5a5a" stroke-width="1.2"/>
<text x="495.8" y="371.52" text-anchor="end" class="tk" textLength="34.91" lengthAdjust="spacingAndGlyphs">8.830</text>
<line x1="503.4" y1="351.51" x2="505.4" y2="351.51" stroke="#5a5a5a" stroke-width="1.2"/>
<text x="495.8" y="357.31" text-anchor="end" class="tk" textLength="34.91" lengthAdjust="spacingAndGlyphs">8.832</text>
<line x1="503.4" y1="337.3" x2="505.4" y2="337.3" stroke="#5a5a5a" stroke-width="1.2"/>
<line x1="529.43" y1="451" x2="529.43" y2="453" stroke="#5a5a5a" stroke-width="1.2"/>
<text x="529.43" y="475.3" text-anchor="middle" class="tk" textLength="7.76" lengthAdjust="spacingAndGlyphs">0</text>
<line x1="556.12" y1="451" x2="556.12" y2="453" stroke="#5a5a5a" stroke-width="1.2"/>
<text x="556.12" y="475.3" text-anchor="middle" class="tk" textLength="7.76" lengthAdjust="spacingAndGlyphs">5</text>
<line x1="582.82" y1="451" x2="582.82" y2="453" stroke="#5a5a5a" stroke-width="1.2"/>
<text x="582.82" y="475.3" text-anchor="middle" class="tk" textLength="15.52" lengthAdjust="spacingAndGlyphs">10</text>
<line x1="609.51" y1="451" x2="609.51" y2="453" stroke="#5a5a5a" stroke-width="1.2"/>
<text x="609.51" y="475.3" text-anchor="middle" class="tk" textLength="15.52" lengthAdjust="spacingAndGlyphs">15</text>
<line x1="636.21" y1="451" x2="636.21" y2="453" stroke="#5a5a5a" stroke-width="1.2"/>
<text x="636.21" y="475.3" text-anchor="middle" class="tk" textLength="15.52" lengthAdjust="spacingAndGlyphs">20</text>
<line x1="662.9" y1="451" x2="662.9" y2="453" stroke="#5a5a5a" stroke-width="1.2"/>
<text x="662.9" y="475.3" text-anchor="middle" class="tk" textLength="15.52" lengthAdjust="spacingAndGlyphs">25</text>
<polyline points="529.43,357.91 570.8,343.7 612.18,379.23 637.27,435.37" fill="none" stroke="#444" stroke-width="1.1"/>
<circle cx="529.43" cy="357.91" r="4.6" fill="#000"/>
<circle cx="570.8" cy="343.7" r="4.6" fill="#000"/>
<circle cx="612.18" cy="379.23" r="4.6" fill="#000"/>
<circle cx="637.27" cy="435.37" r="4.6" fill="#000"/>
<text x="639.7" y="368.1" class="lt">h</text>
<text transform="translate(25.0,295.2) rotate(-90)" class="ax" textLength="93.4" lengthAdjust="spacingAndGlyphs">&#948; of CIP (ppm)</text>
<text x="319.2" y="503.2" class="ax" textLength="155.8" lengthAdjust="spacingAndGlyphs">Naph concentration (mM)</text>
</svg>
</body></html>
